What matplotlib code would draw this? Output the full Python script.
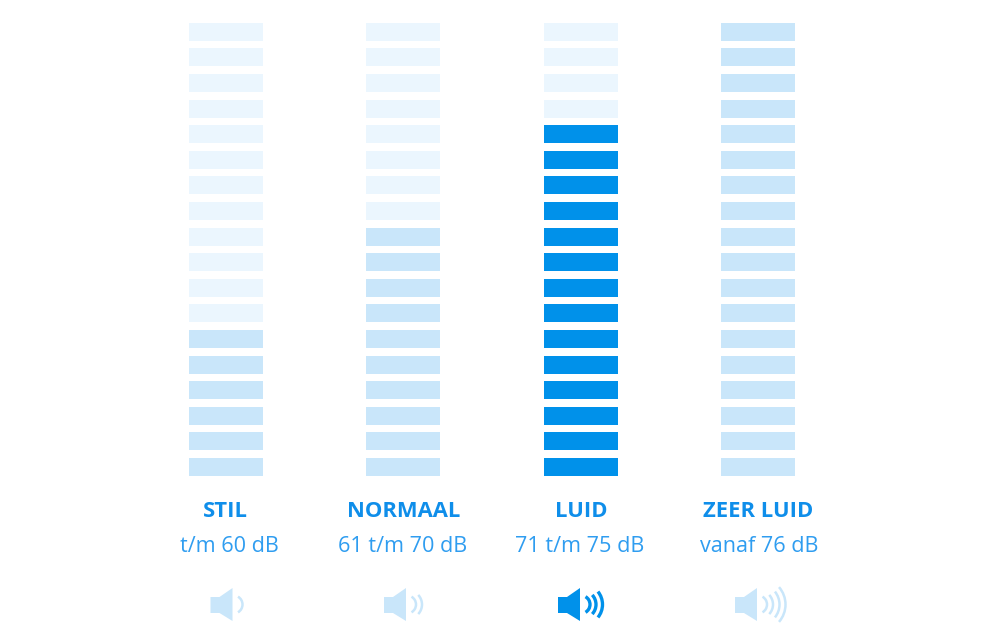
"""Geluidsniveaus: vier kolommen met blokjes, label en luidspreker-icoon."""
import matplotlib
matplotlib.use("Agg")
import matplotlib.pyplot as plt
from matplotlib.patches import Polygon, Arc

plt.rcParams["font.family"] = ["Open Sans", "DejaVu Sans"]

labels = ["STIL", "NORMAAL", "LUID", "ZEER LUID"]
ranges = ["t/m 60 dB", "61 t/m 70 dB", "71 t/m 75 dB", "vanaf 76 dB"]
lit_cells = [6, 10, 14, 18]
n_waves = [1, 2, 3, 4]
n_cells = 18
active = 2  # LUID is de gemarkeerde kolom

FAINT = "#ebf6fe"
MID = "#c9e6fa"
STRONG = "#0091ea"
TEXT = "#2f9df0"
TITLE = "#0f8eea"

centers = [226, 403, 580.5, 757.5]
label_x = [225.5, 403.5, 581.5, 758.5]
range_x = [229.5, 402.5, 580, 759.5]
icon_left = [210.5, 384, 558, 735]
bar_w = 74
bar_h = 18
pitch = 25.6
bottom = 476

# golfjes van het icoon: straal, halve hoek, middelpunt t.o.v. linkerkant icoon
wave_r = [9, 14, 20.5, 26.5]
wave_span = [60, 43, 39, 41]
wave_cx = [23, 24, 24, 24]

fig = plt.figure(figsize=(10, 6.4), dpi=100)
ax = fig.add_axes([0, 0, 1, 1])
ax.set_xlim(0, 1000)
ax.set_ylim(640, 0)
ax.axis("off")


def draw_speaker(ax, x0, waves, color, lw):
    ax.add_patch(Polygon([(x0, 597), (x0 + 9, 597), (x0 + 22, 588), (x0 + 22, 621),
                          (x0 + 9, 613), (x0, 613)], closed=True, fc=color, ec="none"))
    for i in range(waves):
        d = 2 * wave_r[i]
        ax.add_patch(Arc((x0 + wave_cx[i], 604.5), d, d, theta1=-wave_span[i], theta2=wave_span[i],
                         ec=color, lw=lw))


for i, cx in enumerate(centers):
    lit_color = STRONG if i == active else MID
    for level in range(n_cells):
        color = lit_color if level < lit_cells[i] else FAINT
        ax.bar(cx, bar_h, width=bar_w, bottom=bottom - level * pitch - bar_h, color=color, linewidth=0)
    ax.text(label_x[i], 511.5, labels[i], ha="center", va="center", fontsize=15.8, fontweight="bold", color=TITLE)
    ax.text(range_x[i], 546, ranges[i], ha="center", va="center", fontsize=15.6, color=TEXT)
    if i == active:
        draw_speaker(ax, icon_left[i], n_waves[i], STRONG, 2.4)
    else:
        draw_speaker(ax, icon_left[i], n_waves[i], MID, 1.8)

fig.savefig("out.png", dpi=100)
